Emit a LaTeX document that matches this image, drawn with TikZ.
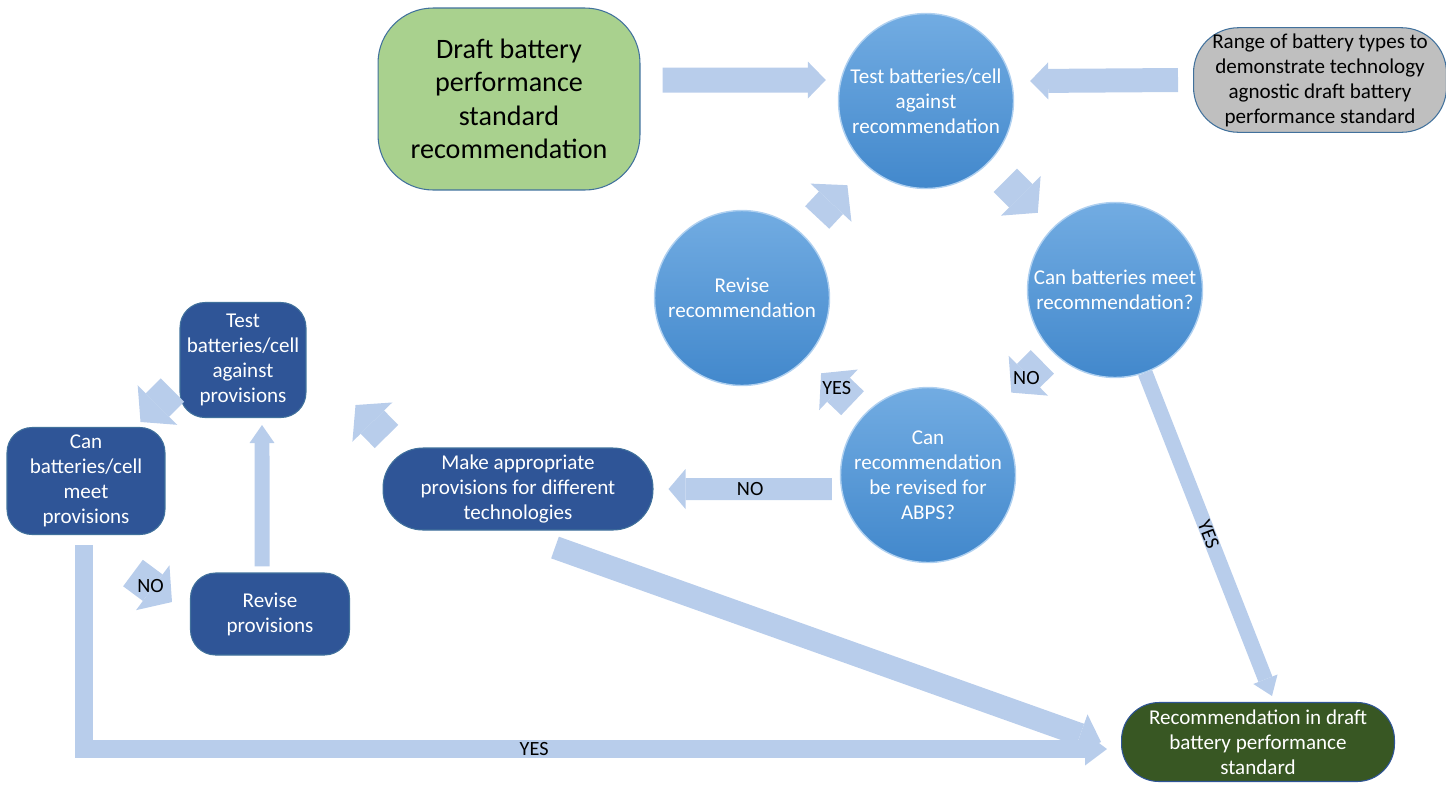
\documentclass[tikz,border=0pt]{standalone}
\usepackage{fontspec}
\setmainfont{Carlito}
\usetikzlibrary{arrows.meta}

\definecolor{arrowblue}{RGB}{184,205,235}
\definecolor{circletop}{RGB}{114,172,226}
\definecolor{circlebottom}{RGB}{66,136,204}
\definecolor{circlerim}{RGB}{175,208,240}
\definecolor{provblue}{RGB}{47,85,151}
\definecolor{draftgreen}{RGB}{169,209,142}
\definecolor{stdgreen}{RGB}{56,87,35}
\definecolor{rangegrey}{RGB}{191,191,191}
\definecolor{edgeblue}{RGB}{65,113,156}

\tikzset{
  stepcircle/.style={circle, minimum size=3.5cm, inner sep=0pt, align=center, text=white,
    top color=circletop, bottom color=circlebottom, draw=circlerim, line width=0.8pt},
  provbox/.style={rectangle, rounded corners=0.5cm, align=center, text=white,
    fill=provblue, draw=edgeblue, line width=0.6pt, inner sep=2pt},
  draftbox/.style={rectangle, rounded corners=1.1cm, align=center, fill=draftgreen,
    draw=edgeblue, line width=0.6pt, minimum width=5.24cm, minimum height=3.64cm,
    font=\fontsize{16}{19}\selectfont},
  rangebox/.style={rectangle, rounded corners=0.9cm, align=center, fill=rangegrey,
    draw=edgeblue, line width=0.6pt, minimum width=5.06cm, minimum height=2cm},
  stdbox/.style={rectangle, rounded corners=0.75cm, align=center, text=white, fill=stdgreen,
    draw=provblue, line width=0.6pt, minimum width=5.46cm, minimum height=1.58cm},
  blockarrow/.style n args={3}{draw=arrowblue, line width=#1,
    -{Triangle[width=#2, length=#3, line width=0pt]}},
  stubarrow/.style={blockarrow={0.66cm}{1.12cm}{0.48cm}},
  flowlabel/.style={text=black, inner sep=1pt, font=\fontsize{11.5}{13}\selectfont}
}

\begin{document}
\begin{tikzpicture}[x=0.02cm, y=-0.02cm, font=\fontsize{12}{14.2}\selectfont]
  \useasboundingbox (0,0) rectangle (1446,789);

  % recommendation loop
  \node[draftbox] (draft) at (509,99) {Draft battery\\performance\\standard\\recommendation};
  \node[stepcircle] (testrec) at (926,101) {Test batteries/cell\\against\\recommendation};
  \node[rangebox] (range) at (1320,80) {Range of battery types to\\demonstrate technology\\agnostic draft battery\\performance standard};
  \node[stepcircle] (canmeet) at (1115,290) {Can batteries meet\\recommendation?};
  \node[stepcircle] (reviserec) at (742,298) {Revise\\recommendation};
  \node[stepcircle] (canrevise) at (928,475) {Can\\recommendation\\be revised for\\ABPS?};

  % provisions loop
  \node[provbox, minimum width=5.4cm, minimum height=1.64cm, rounded corners=0.8cm] (makeprov) at (518,489) {Make appropriate\\provisions for different\\technologies};
  \node[provbox, minimum width=2.52cm, minimum height=2.3cm] (testprov) at (243,360) {Test\\batteries/cell\\against\\provisions};
  \node[provbox, minimum width=3.16cm, minimum height=2.14cm] (canprov) at (86,481) {Can\\batteries/cell\\meet\\provisions};
  \node[provbox, minimum width=3.18cm, minimum height=1.64cm] (reviseprov) at (270,614) {Revise\\provisions};
  \node[stdbox] (recstd) at (1258,742) {Recommendation in draft\\battery performance\\standard};

  % arrows into and round the circles
  \draw[blockarrow={0.5cm}{0.74cm}{0.36cm}] ([xshift=0.44cm,yshift=0.38cm]draft.east) -- ([xshift=-0.24cm,yshift=0.42cm]testrec.west);
  \draw[blockarrow={0.48cm}{0.74cm}{0.36cm}] ([xshift=-0.3cm]range.west) -- ([xshift=0.32cm,yshift=0.4cm]testrec.east);
  \draw[stubarrow, shorten <=0.48cm, shorten >=0.42cm] (testrec) -- (canmeet);
  \draw[stubarrow, shorten <=0.44cm, shorten >=0.54cm] (reviserec) -- (testrec);
  \draw[stubarrow, shorten <=0.28cm, shorten >=0.58cm] (canmeet) -- node[flowlabel, pos=0.42] {NO} (canrevise);
  \draw[stubarrow, shorten <=0.32cm, shorten >=0.42cm] (canrevise) -- node[flowlabel, pos=0.47] {YES} (reviserec);
  \draw[blockarrow={0.44cm}{0.8cm}{0.34cm}] ([xshift=-0.16cm,yshift=-0.28cm]canrevise.west) -- node[flowlabel] {NO} ([xshift=0.3cm]makeprov.east);

  % arrows round the boxes
  \draw[stubarrow] ([xshift=0.08cm,yshift=0.22cm]makeprov.north west) -- ([xshift=0.98cm,yshift=0.26cm]testprov.south east);
  \draw[stubarrow] ([xshift=-0.14cm,yshift=-0.6cm]testprov.west) -- ([xshift=-0.5cm,yshift=0.1cm]canprov.north east);
  \draw[stubarrow] ([xshift=0.94cm,yshift=-0.76cm]canprov.south) -- node[flowlabel, pos=0.45] {NO} ([xshift=-0.36cm,yshift=0.24cm]reviseprov.west);
  \draw[blockarrow={0.3cm}{0.5cm}{0.36cm}] ([xshift=-0.16cm,yshift=0.12cm]reviseprov.north) -- ([xshift=0.38cm,yshift=-0.14cm]testprov.south);

  % arrows into the standard
  \draw[blockarrow={0.36cm}{0.66cm}{0.44cm}] ([xshift=-0.04cm,yshift=-0.2cm]canprov.south) |- node[flowlabel, pos=0.72] {YES} ([xshift=-0.28cm,yshift=-0.14cm]recstd.west);
  \draw[blockarrow={0.46cm}{0.86cm}{0.44cm}] ([xshift=0.74cm,yshift=-0.34cm]makeprov.south) -- ([xshift=-0.4cm]recstd.west);
  \draw[blockarrow={0.3cm}{0.52cm}{0.36cm}] (canmeet.-70) -- node[flowlabel, sloped] {YES} ([xshift=0.28cm,yshift=0.12cm]recstd.north);
\end{tikzpicture}
\end{document}
